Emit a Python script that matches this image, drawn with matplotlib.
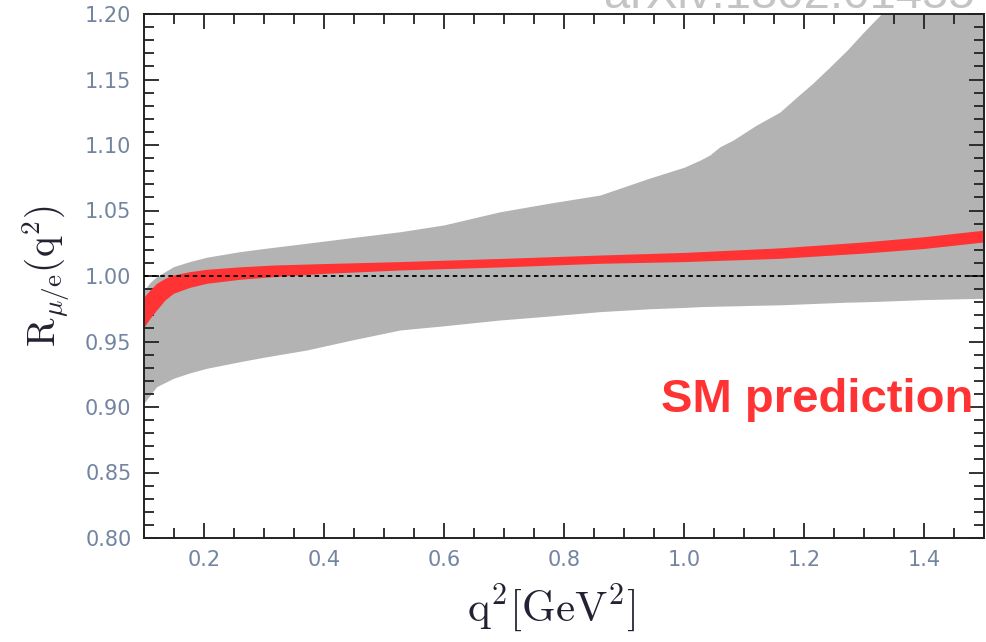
import matplotlib
matplotlib.use("Agg")
import matplotlib.pyplot as plt
from matplotlib.ticker import MultipleLocator, FormatStrFormatter

plt.rcParams["mathtext.fontset"] = "cm"

# q^2 grid and uncertainty band (gray)
q2_band = [0.100, 0.110, 0.121, 0.149, 0.176, 0.204, 0.260, 0.300, 0.371, 0.450, 0.527,
           0.600, 0.693, 0.777, 0.860, 0.943, 1.000, 1.027, 1.043, 1.060, 1.082, 1.120,
           1.160, 1.188, 1.215, 1.243, 1.272, 1.298, 1.327, 1.400, 1.500]
band_upper = [0.989, 0.995, 0.9995, 1.0071, 1.011, 1.0143, 1.0186, 1.021, 1.025, 1.0295, 1.0338,
              1.039, 1.049, 1.0557, 1.0618, 1.0748, 1.083, 1.0885, 1.0924, 1.0987, 1.1038, 1.115,
              1.1252, 1.1366, 1.1473, 1.1595, 1.1725, 1.1855, 1.1992, 1.250, 1.320]
band_lower = [0.903, 0.909, 0.9155, 0.9219, 0.926, 0.9295, 0.9346, 0.938, 0.9435, 0.9515, 0.9588,
              0.962, 0.9664, 0.9695, 0.9728, 0.975, 0.976, 0.9766, 0.9768, 0.977, 0.9772, 0.9776,
              0.978, 0.9785, 0.979, 0.9795, 0.980, 0.9803, 0.9807, 0.982, 0.983]

# SM prediction (red band)
q2_sm = [0.100, 0.110, 0.121, 0.135, 0.149, 0.176, 0.204, 0.260, 0.316, 0.400, 0.527,
         0.700, 0.860, 1.000, 1.160, 1.300, 1.400, 1.500]
sm_upper = [0.984, 0.9893, 0.9944, 0.9982, 1.0008, 1.0033, 1.0051, 1.007, 1.0084, 1.0095, 1.011,
            1.0135, 1.016, 1.018, 1.0215, 1.026, 1.030, 1.035]
sm_lower = [0.961, 0.9677, 0.974, 0.9817, 0.9868, 0.9913, 0.9944, 0.9975, 0.9995, 1.002, 1.0046,
            1.007, 1.0097, 1.011, 1.0135, 1.0175, 1.021, 1.026]

x_range = (0.1, 1.5)
y_range = (0.8, 1.2)
x_ticks = [0.2, 0.4, 0.6, 0.8, 1.0, 1.2, 1.4]
y_ticks = [0.80, 0.85, 0.90, 0.95, 1.00, 1.05, 1.10, 1.15, 1.20]

fig = plt.figure(figsize=(9.87, 6.42), dpi=100)
ax = fig.add_axes([144 / 987, 104 / 642, 840 / 987, 524 / 642])

ax.fill_between(q2_band, band_lower, band_upper, color="#b3b3b3", lw=0, zorder=1)
ax.fill_between(q2_sm, sm_lower, sm_upper, color="#ff3333", lw=0, zorder=2)
ax.plot(x_range, [1.0, 1.0], color="black", lw=1.3, ls=(0, (2.5, 2.0)), zorder=3)

ax.set_xlim(*x_range)
ax.set_ylim(*y_range)
ax.set_xticks(x_ticks)
ax.set_yticks(y_ticks)
ax.xaxis.set_minor_locator(MultipleLocator(0.05))
ax.yaxis.set_minor_locator(MultipleLocator(0.01))
ax.xaxis.set_major_formatter(FormatStrFormatter("%.1f"))
ax.yaxis.set_major_formatter(FormatStrFormatter("%.2f"))

tick_color = "#7384a0"
ax.tick_params(which="both", direction="in", top=True, right=True,
               color="#222222", width=1.3, labelcolor=tick_color, labelsize=15)
ax.tick_params(which="major", length=11, pad=9)
ax.tick_params(which="minor", length=7)
for s in ax.spines.values():
    s.set_linewidth(1.4)
    s.set_color("#222222")

ax.set_xlabel(r"$\mathrm{q}^2[\mathrm{GeV}^2]$", fontsize=31, color="#222233")
ax.xaxis.set_label_coords(0.485, -0.085)
ax.set_ylabel(r"$\mathrm{R}_{\mu/\mathrm{e}}(\mathrm{q}^2)$", fontsize=28, color="#222233")
ax.yaxis.set_label_coords(-0.086, 0.5)

ax.text(1.482, 0.905, "SM prediction", color="#ff3333", fontsize=34,
        fontweight="bold", family="Liberation Sans", ha="right", va="center", zorder=5)

fig.text(975 / 987, (642 - 8) / 642, "arXiv:1802.01455", color="#c4c4c4",
         fontsize=34, family="Liberation Sans", ha="right", va="baseline")

fig.savefig("out.png", dpi=100)
